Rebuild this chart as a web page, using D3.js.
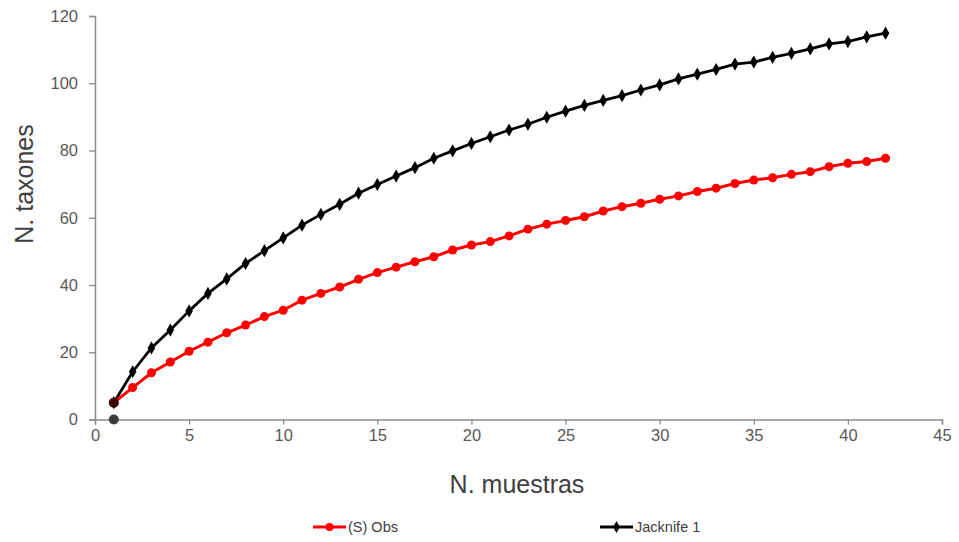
<!DOCTYPE html>
<html>
    <head>
        <meta charset="utf-8">
        <title>Curva de acumulación</title>
        <script src="https://cdn.jsdelivr.net/npm/d3@7"></script>
        <style>
            body { margin: 0; background: #fff; }
            svg text { font-family: "Liberation Sans", Arial, sans-serif; }
        </style>
    </head>
    <body>
        <div class="graphContainer"></div>
        <script>
            // muestras 1..42
            const muestras = d3.range(1, 43);

            const sObs = [5.0, 9.5, 13.9, 17.1, 20.3, 23.0, 25.8, 28.1, 30.6, 32.5,
                35.5, 37.5, 39.4, 41.7, 43.7, 45.3, 46.9, 48.4, 50.4, 51.9,
                52.9, 54.6, 56.6, 58.1, 59.2, 60.3, 62.0, 63.3, 64.3, 65.5,
                66.5, 67.8, 68.8, 70.2, 71.2, 71.9, 72.9, 73.7, 75.2, 76.2, 76.7, 77.7];

            const jack1 = [5.0, 14.2, 21.3, 26.6, 32.3, 37.5, 41.8, 46.4, 50.2, 54.0,
                57.8, 61.0, 64.0, 67.3, 69.9, 72.4, 74.9, 77.7, 79.9, 82.1,
                84.1, 86.1, 87.8, 89.9, 91.7, 93.4, 94.9, 96.3, 98.0, 99.5,
                101.3, 102.7, 104.1, 105.7, 106.3, 107.7, 108.9, 110.2, 111.7, 112.4, 113.8, 114.9];

            // lone grey point at the origin of the series
            const extraPoint = [[1, 0]];

            const xTicks = [0, 5, 10, 15, 20, 25, 30, 35, 40, 45];
            const yTicks = [0, 20, 40, 60, 80, 100, 120];

            const w = 959;
            const h = 542;
            const padLeft = 95, padRight = 942, padTop = 16, padBottom = 419.5;

            const xScale = d3.scaleLinear().domain([0, 45]).range([padLeft, padRight]);
            const yScale = d3.scaleLinear().domain([0, 120]).range([padBottom, padTop]);

            const svg = d3.select(".graphContainer")
                .append("svg")
                .attr("width", w)
                .attr("height", h);

            const xAxis = d3.axisBottom(xScale).tickValues(xTicks).tickSize(5).tickPadding(5);
            const yAxis = d3.axisLeft(yScale).tickValues(yTicks).tickSize(6).tickPadding(11);

            const gx = svg.append("g")
                .attr("transform", "translate(0," + padBottom + ")")
                .call(xAxis);
            const gy = svg.append("g")
                .attr("transform", "translate(" + padLeft + ",0)")
                .call(yAxis);

            [gx, gy].forEach(g => {
                g.select(".domain").attr("stroke", "#8c8c8c").attr("stroke-width", 1.5);
                g.selectAll(".tick line").attr("stroke", "#8c8c8c").attr("stroke-width", 1.3);
                g.selectAll(".tick text")
                    .attr("fill", "#595959")
                    .style("font-size", "16.5px")
                    .style("font-family", "Liberation Sans, Arial, sans-serif");
            });

            svg.append("text")
                .attr("transform", "translate(33,184) rotate(-90)")
                .attr("text-anchor", "middle")
                .attr("fill", "#404040")
                .style("font-size", "25px")
                .text("N. taxones");

            svg.append("text")
                .attr("x", 517)
                .attr("y", 493)
                .attr("text-anchor", "middle")
                .attr("fill", "#404040")
                .style("font-size", "25px")
                .text("N. muestras");

            const line = d3.line()
                .x((d, i) => xScale(muestras[i]))
                .y(d => yScale(d));

            // Jacknife 1
            svg.append("path")
                .datum(jack1)
                .attr("fill", "none")
                .attr("stroke", "#000")
                .attr("stroke-width", 2.8)
                .attr("d", line);

            // S Obs
            svg.append("path")
                .datum(sObs)
                .attr("fill", "none")
                .attr("stroke", "#ff0000")
                .attr("stroke-width", 3)
                .attr("d", line);

            svg.selectAll(".obsDot")
                .data(sObs)
                .enter()
                .append("circle")
                .attr("class", "obsDot")
                .attr("cx", (d, i) => xScale(muestras[i]))
                .attr("cy", d => yScale(d))
                .attr("r", 4.5)
                .attr("fill", "#ff0000");

            const diamond = d3.symbol().type(d3.symbolDiamond).size(50);

            svg.selectAll(".jackDot")
                .data(jack1)
                .enter()
                .append("path")
                .attr("class", "jackDot")
                .attr("d", diamond)
                .attr("transform", (d, i) => "translate(" + xScale(muestras[i]) + "," + yScale(d) + ")")
                .attr("fill", "#000");

            // first point drawn darker where both series meet
            svg.append("circle")
                .attr("cx", xScale(muestras[0]))
                .attr("cy", yScale(sObs[0]))
                .attr("r", 5)
                .attr("fill", "#3a0000");

            svg.selectAll(".extraDot")
                .data(extraPoint)
                .enter()
                .append("circle")
                .attr("class", "extraDot")
                .attr("cx", d => xScale(d[0]))
                .attr("cy", d => yScale(d[1]))
                .attr("r", 5)
                .attr("fill", "#3c3c3c");

            // legend
            const legend = svg.append("g");
            const lg1 = legend.append("g").attr("transform", "translate(313,527)");
            lg1.append("line").attr("x1", 0).attr("x2", 33).attr("stroke", "#ff0000").attr("stroke-width", 3);
            lg1.append("circle").attr("cx", 16.5).attr("r", 4).attr("fill", "#ff0000");
            lg1.append("text").attr("x", 35).attr("y", 5).attr("fill", "#404040")
                .style("font-size", "14.5px").text("(S) Obs");

            const lg2 = legend.append("g").attr("transform", "translate(600,527)");
            lg2.append("line").attr("x1", 0).attr("x2", 33).attr("stroke", "#000").attr("stroke-width", 2.8);
            lg2.append("path").attr("d", d3.symbol().type(d3.symbolDiamond).size(40))
                .attr("transform", "translate(16.5,0)").attr("fill", "#000");
            lg2.append("text").attr("x", 35).attr("y", 5).attr("fill", "#404040")
                .style("font-size", "14.5px").text("Jacknife 1");
        </script>
    </body>
</html>
